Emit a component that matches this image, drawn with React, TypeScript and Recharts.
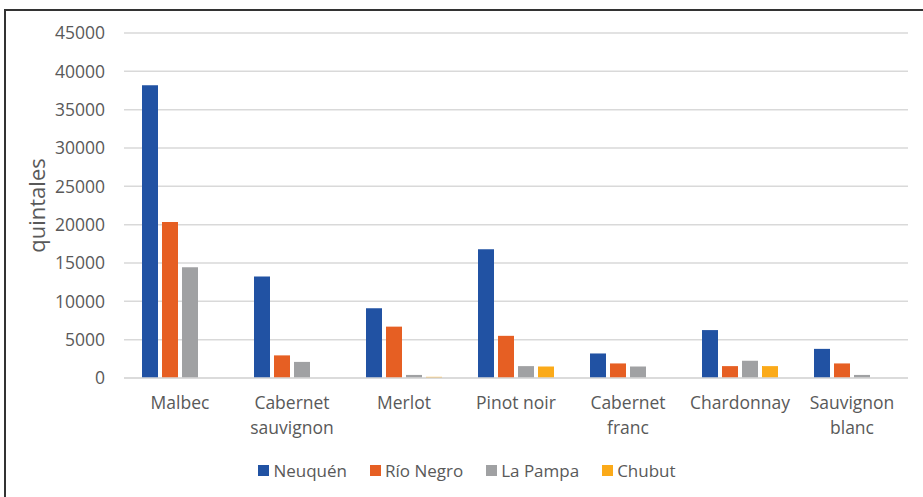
import React from "react"
import {
  BarChart,
  Bar,
  XAxis,
  YAxis,
  CartesianGrid,
  Legend,
} from "recharts"

const categories = [
  "Malbec",
  "Cabernet\nsauvignon",
  "Merlot",
  "Pinot noir",
  "Cabernet\nfranc",
  "Chardonnay",
  "Sauvignon\nblanc",
]
const neuquen = [38200, 13250, 9100, 16800, 3200, 6250, 3800]
const rioNegro = [20350, 2950, 6700, 5500, 1900, 1550, 1900]
const laPampa = [14450, 2100, 400, 1550, 1500, 2250, 400]
const chubut = [0, 0, 150, 1500, 0, 1550, 0]
const yTicks = [0, 5000, 10000, 15000, 20000, 25000, 30000, 35000, 40000, 45000]

const series = [
  { key: "neuquen", name: "Neuquén", color: "#2152A3" },
  { key: "rioNegro", name: "Río Negro", color: "#E65F23" },
  { key: "laPampa", name: "La Pampa", color: "#A0A1A3" },
  { key: "chubut", name: "Chubut", color: "#FBAA19" },
]

const data = categories.map((c, i) => ({
  name: c,
  neuquen: neuquen[i],
  rioNegro: rioNegro[i],
  laPampa: laPampa[i],
  chubut: chubut[i],
}))

const font = "'Open Sans', sans-serif"
const textColor = "#595959"

function CategoryTick(props: any) {
  const { x, y, payload } = props
  const lines = String(payload.value).split("\n")
  return (
    <text
      x={x}
      y={y}
      textAnchor="middle"
      fill={textColor}
      fontSize={17.5}
      fontFamily={font}
    >
      {lines.map((l, i) => (
        <tspan key={i} x={x} dy={i === 0 ? 23 : 25}>
          {l}
        </tspan>
      ))}
    </text>
  )
}

function LegendContent() {
  return (
    <div
      style={{
        display: "flex",
        justifyContent: "center",
        gap: 23,
        fontFamily: font,
        fontSize: 17,
        color: textColor,
        height: 24,
      }}
    >
      {series.map((s) => (
        <div key={s.key} style={{ display: "flex", alignItems: "center" }}>
          <span
            style={{
              width: 11,
              height: 11,
              background: s.color,
              marginRight: 4,
              display: "inline-block",
            }}
          />
          {s.name}
        </div>
      ))}
    </div>
  )
}

export default function App() {
  return (
    <div
      style={{
        position: "fixed",
        left: 0,
        top: 0,
        width: 923,
        height: 497,
        overflow: "hidden",
        background: "#fff",
      }}
    >
      <div
        style={{
          position: "absolute",
          left: 4,
          top: 9,
          width: 940,
          height: 520,
          border: "2px solid #333",
        }}
      />
      <div style={{ position: "absolute", left: 0, top: 0 }}>
        <BarChart
          width={923}
          height={497}
          data={data}
          margin={{ top: 33, right: 15, left: 0, bottom: 35 }}
          barSize={16}
          barGap={4}
        >
          <CartesianGrid vertical={false} stroke="#d9d9d9" strokeWidth={1.5} />
          <XAxis
            dataKey="name"
            tick={<CategoryTick />}
            tickLine={false}
            axisLine={{ stroke: "#d9d9d9", strokeWidth: 1.5 }}
            interval={0}
            height={60}
          />
          <YAxis
            width={124}
            domain={[0, 45000]}
            ticks={yTicks}
            tickLine={false}
            axisLine={false}
            tickSize={0}
            tickMargin={19}
            tick={{ fill: textColor, fontSize: 17.5, fontFamily: font }}
            label={{
              value: "quintales",
              angle: -90,
              position: "insideLeft",
              offset: 37,
              style: { fill: textColor, fontSize: 22, fontFamily: font, textAnchor: "middle" },
            }}
          />
          <Legend
            content={<LegendContent />}
            wrapperStyle={{ left: 0, width: 934, top: 458, bottom: "auto" }}
          />
          {series.map((s) => (
            <Bar
              key={s.key}
              dataKey={s.key}
              name={s.name}
              fill={s.color}
              isAnimationActive={false}
            />
          ))}
        </BarChart>
      </div>
    </div>
  )
}
